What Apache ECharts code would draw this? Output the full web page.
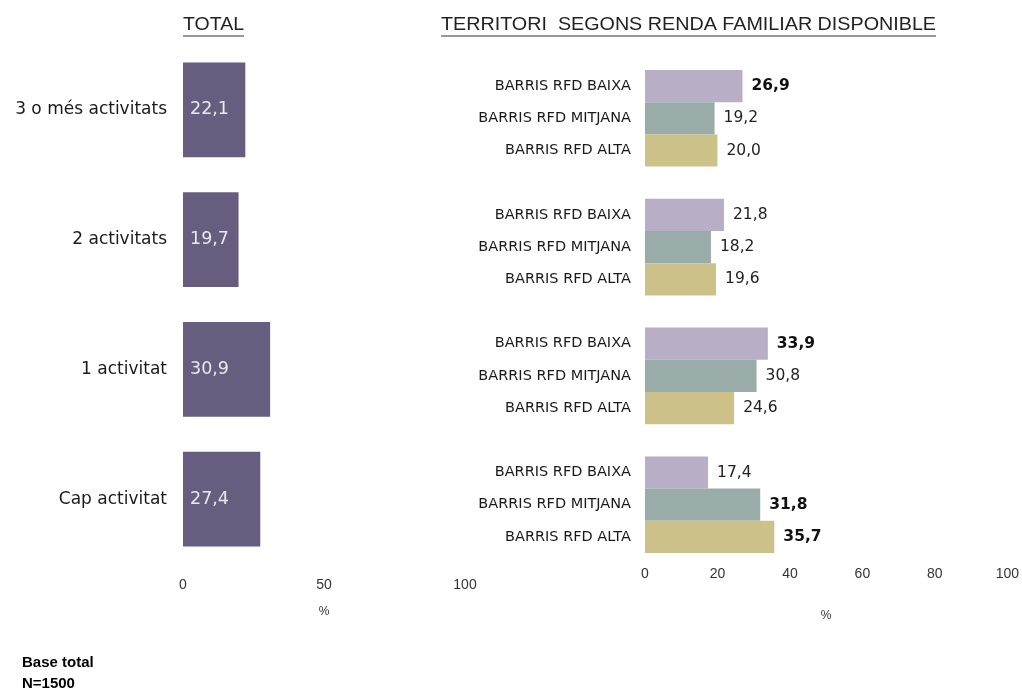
<!DOCTYPE html>
<html>
<head>
<meta charset="utf-8">
<script src="https://cdn.jsdelivr.net/npm/echarts@6/dist/echarts.min.js"></script>
<style>
html,body{margin:0;padding:0;background:#fff;}
#chart{width:1022px;height:690px;}
</style>
</head>
<body>
<div id="chart"></div>
<script>
// ---- data ----
const totalCategories = ['3 o més activitats', '2 activitats', '1 activitat', 'Cap activitat'];
const totalValues = [22.1, 19.7, 30.9, 27.4];

const territoriNames = ['BARRIS RFD BAIXA', 'BARRIS RFD MITJANA', 'BARRIS RFD ALTA'];
const baixaValues = [26.9, 21.8, 33.9, 17.4];
const mitjanaValues = [19.2, 18.2, 30.8, 31.8];
const altaValues = [20.0, 19.6, 24.6, 35.7];
// values shown in bold (significant)
const baixaBold = [true, false, true, false];
const mitjanaBold = [false, false, false, true];
const altaBold = [false, false, false, true];

const titleTotal = 'TOTAL';
const titleTerritori = 'TERRITORI  SEGONS RENDA FAMILIAR DISPONIBLE';
const baseText = 'Base total\nN=1500';

// ---- build ----
const FONT = '"Liberation Sans", Arial, sans-serif';
const WIDE = '"DejaVu Sans", "Liberation Sans", sans-serif';
const fmt = v => v.toFixed(1).replace('.', ',');

const groups = totalCategories.length;
const rowLabels = [];
for (let g = 0; g < groups; g++) {
  territoriNames.forEach(n => rowLabels.push(n));
  if (g < groups - 1) rowLabels.push('');
}
const terrVals = [baixaValues, mitjanaValues, altaValues];
const terrBold = [baixaBold, mitjanaBold, altaBold];
const terrColors = ['#b8afc6', '#9aaca8', '#cdc18a'];

function rowData(s) {
  const arr = new Array(rowLabels.length).fill(null);
  for (let g = 0; g < groups; g++) {
    arr[g * 4 + s] = { value: terrVals[s][g], bold: terrBold[s][g] };
  }
  return arr;
}

function measure(text, font) {
  const c = document.createElement('canvas').getContext('2d');
  c.font = font;
  return c.measureText(text).width;
}

const titleFont = '19px "Liberation Sans"';
const sTotal = 61 / measure(titleTotal, titleFont);
const sTerr = 495 / measure(titleTerritori, titleFont);

const terrSeries = territoriNames.map((name, s) => ({
  type: 'bar',
  name: name,
  xAxisIndex: 1,
  yAxisIndex: 1,
  barGap: '-100%',
  barCategoryGap: 0,
  itemStyle: { color: terrColors[s] },
  data: rowData(s),
  label: {
    show: true,
    position: 'right',
    distance: 9,
    formatter: p => p.data && p.data.bold ? '{b|' + fmt(p.value) + '}' : '{n|' + fmt(p.value) + '}',
    rich: {
      b: { fontFamily: WIDE, fontSize: 15.5, fontWeight: 'bold', color: '#111' },
      n: { fontFamily: WIDE, fontSize: 15.5, color: '#222' }
    }
  }
}));

const chart = echarts.init(document.getElementById('chart'));
chart.setOption({
  animation: false,
  backgroundColor: '#fff',
  grid: [
    { left: 183, width: 282, top: 45, height: 519 },
    { left: 645, width: 366, top: 70, height: 483 }
  ],
  xAxis: [
    {
      gridIndex: 0, type: 'value', min: 0, max: 100, interval: 50,
      axisLine: { show: false }, axisTick: { show: false }, splitLine: { show: false },
      axisLabel: { margin: 14, fontFamily: FONT, fontSize: 14, color: '#333' },
      name: '%', nameLocation: 'middle', nameGap: 42,
      nameTextStyle: { fontFamily: FONT, fontSize: 12, color: '#333' }
    },
    {
      gridIndex: 1, type: 'value', min: 0, max: 100, interval: 20,
      axisLine: { show: false }, axisTick: { show: false }, splitLine: { show: false },
      axisLabel: { margin: 14, fontFamily: FONT, fontSize: 14, color: '#333' },
      name: '%', nameLocation: 'middle', nameGap: 57,
      nameTextStyle: { fontFamily: FONT, fontSize: 12, color: '#333' }
    }
  ],
  yAxis: [
    {
      gridIndex: 0, type: 'category', inverse: true, data: totalCategories,
      axisLine: { show: false }, axisTick: { show: false },
      axisLabel: { margin: 16, fontFamily: WIDE, fontSize: 17, color: '#1a1a1a' }
    },
    {
      gridIndex: 1, type: 'category', inverse: true, data: rowLabels,
      axisLine: { show: false }, axisTick: { show: false },
      axisLabel: { margin: 14, interval: 0, fontFamily: WIDE, fontSize: 14.5, color: '#1a1a1a' }
    }
  ],
  series: [
    {
      type: 'bar',
      xAxisIndex: 0, yAxisIndex: 0,
      barCategoryGap: '27%',
      itemStyle: { color: '#675d7e' },
      data: totalValues,
      label: {
        show: true, position: 'insideLeft', distance: 7,
        formatter: p => fmt(p.value),
        fontFamily: WIDE, fontSize: 17.5, color: '#ebe7f2'
      }
    }
  ].concat(terrSeries),
  graphic: [
    { type: 'text', x: 183, y: 15, scaleX: sTotal, style: { text: titleTotal, font: titleFont, fill: '#222', verticalAlign: 'top' } },
    { type: 'line', shape: { x1: 183, y1: 36, x2: 244, y2: 36 }, style: { stroke: '#333', lineWidth: 1 } },
    { type: 'text', x: 441, y: 15, scaleX: sTerr, style: { text: titleTerritori, font: titleFont, fill: '#222', verticalAlign: 'top' } },
    { type: 'line', shape: { x1: 441, y1: 36, x2: 936, y2: 36 }, style: { stroke: '#333', lineWidth: 1 } },
    { type: 'text', left: 22, top: 652, style: { text: baseText, font: 'bold 15px "Liberation Sans"', fill: '#000', lineHeight: 21 } }
  ]
});
</script>
</body>
</html>
